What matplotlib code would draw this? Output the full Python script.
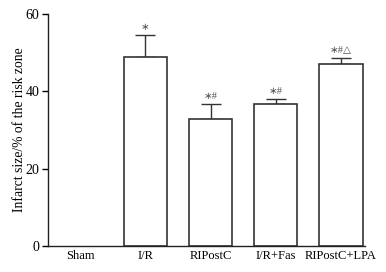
import matplotlib
matplotlib.use("Agg")
import matplotlib.pyplot as plt

categories = ["Sham", "I/R", "RIPostC", "I/R+Fas", "RIPostC+LPA"]
means = [0.0, 48.8, 32.9, 36.6, 47.1]
errors = [0.0, 5.7, 3.7, 1.4, 1.4]
marks = ["", "∗", "∗#", "∗#", "∗#△"]

plt.rcParams['font.family'] = ['Liberation Serif', 'DejaVu Sans']
fig = plt.figure(figsize=(3.86, 2.72), dpi=100)
ax = fig.add_axes([0.1236, 0.0956, 0.822, 0.854])

x = list(range(len(categories)))
ec = "#333333"
ax.bar(x[1:], means[1:], width=0.667, color="white", edgecolor=ec, linewidth=1.2, zorder=2)
ax.errorbar(x[1:], means[1:], yerr=[[0]*4, errors[1:]], fmt="none", ecolor=ec,
            elinewidth=1.0, capsize=7.5, capthick=1.0, zorder=1)
for xi, m, e, t in zip(x, means, errors, marks):
    if t:
        ax.text(xi, m + e + 0.8, t, ha="center", va="bottom", fontsize=7.5, color="#555555")

ax.set_xlim(-0.5, 4.37)
ax.set_ylim(0, 60)
ax.set_yticks([0, 20, 40, 60])
ax.set_xticks(x)
ax.set_xticklabels(categories, fontsize=9)
ax.tick_params(axis="x", length=0, pad=3)
ax.tick_params(axis="y", direction="out", length=4, width=1, labelsize=10, pad=2)
ax.set_ylabel("Infarct size/% of the risk zone", fontsize=9.8, labelpad=-0.5)
for s in ["top", "right"]:
    ax.spines[s].set_visible(False)
for s in ["left", "bottom"]:
    ax.spines[s].set_linewidth(1.0)
    ax.spines[s].set_color("#222222")

fig.savefig("out.png", dpi=100)
